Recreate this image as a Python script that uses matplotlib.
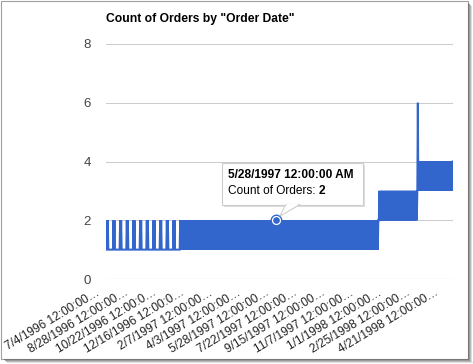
import matplotlib
matplotlib.use("Agg")
import matplotlib.pyplot as plt
from matplotlib.patches import Rectangle, Polygon
from matplotlib.transforms import ScaledTranslation
import numpy as np

# ---- data ----
title = 'Count of Orders by "Order Date"'
series_name = "Count of Orders"

# one count per order date (category)
counts_text = """
1212111111111 1212111111111 1212111111111 1212111111111
1212111111111 1212111111111 1212111111111 1212111111111
1212111111111 1212111111111 1212111111111
1212121212 1212121212 1212121212 1212121212 1212121212 1212121212
1212121212 1212121212 1212121212 1212121212 1212121212 1212121212
1212121212 1212121212 1212121212 1212121212 1212121212 1212121212
1212121212 1212121212 1212121212 1212121212 1212121212 1212121212
1212121212 1212121212 1212121212 1212121212 1212121212 1212121212
1212121212 1212121212 1212121212 1212121212 1212121212 1212121212
1212121212 1212121212 12121212
2323232323 2323232323 2323232323 2323232323 2323232323 2323232323
2323232323 232323
6
3434343434 3434343434 3434343434 3434343434 3434343434 3434343434
34343434
"""
counts = [int(c) for c in counts_text if c.isdigit()]

tick_every = 55
tick_labels = [
    "7/4/1996 12:00:00…", "8/28/1996 12:00:00…", "10/22/1996 12:00:0…",
    "12/16/1996 12:00:0…", "2/7/1997 12:00:00…", "4/3/1997 12:00:00…",
    "5/28/1997 12:00:00…", "7/22/1997 12:00:00…", "9/15/1997 12:00:00…",
    "11/7/1997 12:00:00…", "1/1/1998 12:00:00…", "2/25/1998 12:00:00…",
    "4/21/1998 12:00:00…",
]
y_ticks = [0, 2, 4, 6, 8]

tooltip_index = 330
tooltip_date = "5/28/1997 12:00:00 AM"

# ---- figure ----
W, H = 473, 364
fig = plt.figure(figsize=(W / 100, H / 100), dpi=100)
plt.rcParams["font.family"] = ["Liberation Sans", "DejaVu Sans"]

def fx(x):
    return x / W

def fy(y):
    return 1 - y / H

ax = fig.add_axes([fx(106), fy(279), (453 - 106) / W, (279 - 44) / H])
N = len(counts)
x = np.arange(N)
ax.set_xlim(-0.5, N - 0.5)
ax.set_ylim(0, 8)
for s in ax.spines.values():
    s.set_visible(False)
ax.set_facecolor("none")

for v in y_ticks[1:]:
    ax.axhline(v, color="#cccccc", lw=0.75, zorder=0)
ax.axhline(0, color="#333333", lw=0.75, zorder=3)

ax.plot(x, counts, color="#3366cc", lw=1.45, zorder=2, solid_joinstyle="miter")

ax.set_yticks(y_ticks)
ax.set_yticklabels([str(v) for v in y_ticks], fontsize=9.5, color="#444444")
ax.tick_params(axis="y", length=0, pad=11)
ax.set_xticks([])

# rotated x labels
off = ScaledTranslation(-7.5 / 100, -13 / 100, fig.dpi_scale_trans)
for k, lab in enumerate(tick_labels):
    i = k * tick_every
    ax.text(i, 0, lab, transform=ax.transData + off, rotation=31,
            rotation_mode="anchor", ha="right", va="center",
            fontsize=8.6, color="#222222", clip_on=False)

# title
fig.text(fx(106), fy(19), title, fontsize=8.7, fontweight="bold",
         color="#000000", ha="left", va="center")

# hovered point marker
yv = counts[tooltip_index]
ax.plot([tooltip_index], [yv], "o", ms=8.6, color="#3366cc", zorder=5, mew=0)
ax.plot([tooltip_index], [yv], "o", ms=6.6, color="white", zorder=6, mew=0)
ax.plot([tooltip_index], [yv], "o", ms=4.8, color="#3366cc", zorder=7, mew=0)

# tooltip box
bx0, by0, bx1, by1 = 222, 163, 363, 205
shadow = Rectangle((fx(bx0 + 2), fy(by1 + 2)), (bx1 - bx0) / W, (by1 - by0) / H,
                   transform=fig.transFigure, facecolor="#dddddd", edgecolor="none",
                   zorder=8)
fig.patches.append(shadow)
box = Rectangle((fx(bx0), fy(by1)), (bx1 - bx0) / W, (by1 - by0) / H,
                transform=fig.transFigure, facecolor="white", edgecolor="#cccccc",
                lw=0.8, zorder=9)
fig.patches.append(box)
ptr = Polygon([(fx(286), fy(by1 - 0.5)), (fx(300), fy(by1 - 0.5)), (fx(280), fy(216))],
              closed=True, transform=fig.transFigure, facecolor="white",
              edgecolor="#cccccc", lw=0.8, zorder=9)
fig.patches.append(ptr)
cover = Polygon([(fx(286.8), fy(by1 - 1)), (fx(299), fy(by1 - 1)), (fx(281.5), fy(214.5))],
                closed=True, transform=fig.transFigure, facecolor="white",
                edgecolor="none", zorder=10)
fig.patches.append(cover)

fig.text(fx(228), fy(175), tooltip_date, fontsize=8.6, fontweight="bold",
         ha="left", va="center", zorder=11)
t = fig.text(fx(228), fy(191), series_name + ": ", fontsize=8.6,
             ha="left", va="center", zorder=11)
fig.canvas.draw()
bb = t.get_window_extent()
fig.text(bb.x1 / W, fy(191), str(yv), fontsize=8.6, fontweight="bold",
         ha="left", va="center", zorder=11)

# screenshot frame with shadow
fig.patches.append(Rectangle((fx(0.5), fy(358.5)), 467.5 / W, 358 / H,
                             transform=fig.transFigure, facecolor="none",
                             edgecolor="#a0a0a0", lw=0.8, zorder=12))
for d, c in [(1, "#777777"), (2, "#999999"), (3, "#bbbbbb"), (4, "#dddddd")]:
    fig.patches.append(Rectangle((fx(468 + d - 1), fy(358 + d)), 1 / W, 356 / H,
                                 transform=fig.transFigure, facecolor=c,
                                 edgecolor="none", zorder=12))
    fig.patches.append(Rectangle((fx(3 + d), fy(359 + d)), 466 / W, 1 / H,
                                 transform=fig.transFigure, facecolor=c,
                                 edgecolor="none", zorder=12))

fig.savefig("out.png", dpi=100)
